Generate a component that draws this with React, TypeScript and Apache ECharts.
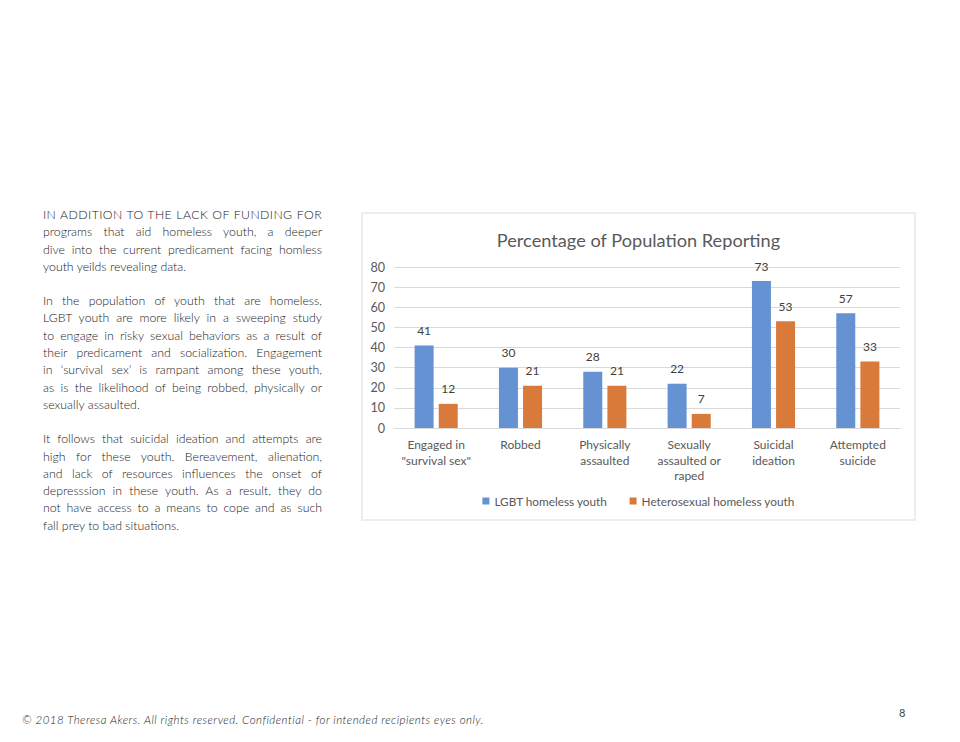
import React, { useEffect, useRef } from "react";
import * as echarts from "echarts";

const categories = [
  'Engaged in\n"survival sex"',
  "Robbed",
  "Physically\nassaulted",
  "Sexually\nassaulted or\nraped",
  "Suicidal\nideation",
  "Attempted\nsuicide",
];
const lgbtValues = [41, 30, 28, 22, 73, 57];
const heteroValues = [12, 21, 21, 7, 53, 33];
const seriesNames = ["LGBT homeless youth", "Heterosexual homeless youth"];
const chartTitle = "Percentage of Population Reporting";

const para1Lines = [
  "IN ADDITION TO THE LACK OF FUNDING FOR",
  "programs that aid homeless youth, a deeper",
  "dive into the current predicament facing homless",
  "youth yeilds revealing data.",
];
const para2Lines = [
  "In the population of youth that are homeless,",
  "LGBT youth are more likely in a sweeping study",
  "to engage in risky sexual behaviors as a result of",
  "their predicament and socialization. Engagement",
  "in \u2018survival sex\u2019 is rampant among these youth,",
  "as is the likelihood of being robbed, physically or",
  "sexually assaulted.",
];
const para3Lines = [
  "It follows that suicidal ideation and attempts are",
  "high for these youth. Bereavement, alienation,",
  "and lack of resources influences the onset of",
  "depresssion in these youth. As a result, they do",
  "not have access to a means to cope and as such",
  "fall prey to bad situations.",
];
const footer =
  "\u00a9 2018 Theresa Akers. All rights reserved. Confidential - for intended recipients eyes only.";
const pageNumber = "8";

const BLUE = "#6492d2";
const ORANGE = "#d97a3b";
const FONT = "Lato, 'Open Sans', sans-serif";

function Para({ lines, first }: { lines: string[]; first?: boolean }) {
  return (
    <div style={{ marginBottom: 17 }}>
      {lines.map((l, i) => (
        <div
          key={i}
          style={{
            textAlign: i === lines.length - 1 ? "left" : "justify",
            textAlignLast: i === lines.length - 1 ? "left" : "justify",
            whiteSpace: "nowrap",
            letterSpacing: i === 0 && first ? "0.4px" : undefined,
          } as React.CSSProperties}
        >
          {l}
        </div>
      ))}
    </div>
  );
}

export default function App() {
  const ref = useRef<HTMLDivElement>(null);

  useEffect(() => {
    document.body.style.margin = "0";
    if (!ref.current) return;
    const chart = echarts.init(ref.current, undefined, { renderer: "svg" });
    const labelStyle = {
      show: true,
      position: "top" as const,
      distance: 9,
      color: "#404040",
      fontSize: 12,
      fontFamily: FONT,
    };
    chart.setOption({
      animation: false,
      backgroundColor: "#ffffff",
      title: {
        text: chartTitle,
        left: "center",
        top: 12,
        textStyle: {
          color: "#595959",
          fontSize: 18.2,
          fontWeight: "normal",
          fontFamily: FONT,
        },
      },
      legend: {
        bottom: 7,
        left: "center",
        itemWidth: 7,
        itemHeight: 7,
        itemGap: 22,
        icon: "rect",
        textStyle: { color: "#595959", fontSize: 11.8, fontFamily: FONT },
        data: seriesNames,
      },
      grid: { left: 31, right: 14, top: 53, bottom: 91, containLabel: false },
      xAxis: {
        type: "category",
        data: categories,
        axisLine: { show: true, lineStyle: { color: "#d9d9d9" } },
        axisTick: { show: false },
        axisLabel: {
          color: "#595959",
          fontSize: 12,
          fontFamily: FONT,
          lineHeight: 15.5,
          margin: 9,
          interval: 0,
        },
      },
      yAxis: {
        type: "value",
        min: 0,
        max: 80,
        interval: 10,
        axisLine: { show: false },
        axisTick: { show: false },
        axisLabel: {
          color: "#595959",
          fontSize: 12.6,
          fontFamily: FONT,
          margin: 9,
        },
        splitLine: { lineStyle: { color: "#d9d9d9" } },
      },
      series: [
        {
          name: seriesNames[0],
          type: "bar",
          data: lgbtValues,
          itemStyle: { color: BLUE },
          barWidth: 19,
          barGap: "27%",
          label: labelStyle,
        },
        {
          name: seriesNames[1],
          type: "bar",
          data: heteroValues,
          itemStyle: { color: ORANGE },
          barWidth: 19,
          label: labelStyle,
        },
      ],
    });
    return () => chart.dispose();
  }, []);

  return (
    <div
      style={{
        position: "absolute",
        left: 0,
        top: 0,
        width: 960,
        height: 742,
        background: "#ffffff",
        overflow: "hidden",
      }}
    >
      <div
        style={{
          position: "absolute",
          left: 43,
          top: 206,
          width: 279,
          fontFamily: FONT,
          fontSize: 12.3,
          lineHeight: "17.3px",
          color: "#1a1a1a",
          fontWeight: 300,
        }}
      >
        <Para lines={para1Lines} first />
        <Para lines={para2Lines} />
        <Para lines={para3Lines} />
      </div>
      <div
        style={{
          position: "absolute",
          left: 361,
          top: 212,
          width: 551,
          height: 305,
          border: "2px solid #ededed",
          boxSizing: "content-box",
        }}
      >
        <div ref={ref} style={{ width: 551, height: 305 }} />
      </div>
      <div
        style={{
          position: "absolute",
          left: 22,
          top: 713,
          fontFamily: FONT,
          fontStyle: "italic",
          fontSize: 11.5,
          letterSpacing: "0.48px",
          color: "#222222",
          fontWeight: 300,
          whiteSpace: "nowrap",
        }}
      >
        {footer}
      </div>
      <div
        style={{
          position: "absolute",
          left: 899,
          top: 706,
          fontFamily: FONT,
          fontSize: 11,
          color: "#444",
        }}
      >
        {pageNumber}
      </div>
    </div>
  );
}
